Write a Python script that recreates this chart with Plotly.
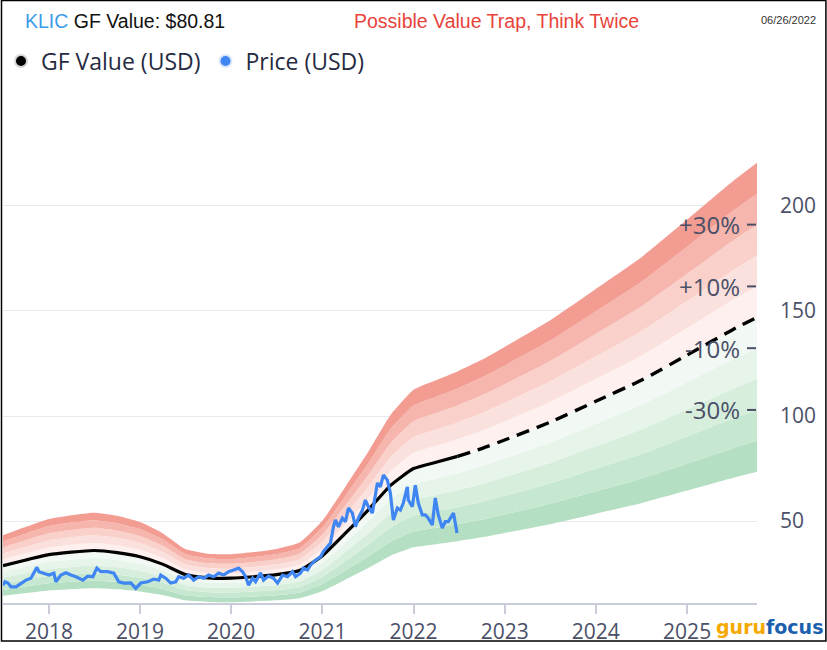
import plotly.graph_objects as go

# ---------------- data ----------------
gf_dates = ["2017-07-01", "2017-10-01", "2018-01-01", "2018-04-01", "2018-07-01", "2018-10-01",
            "2019-01-01", "2019-04-01", "2019-07-01", "2019-10-01", "2020-01-01", "2020-04-01",
            "2020-07-01", "2020-10-01", "2021-01-01", "2021-04-01", "2021-07-01", "2021-10-01",
            "2022-01-01", "2022-04-01", "2022-06-26"]
gf_values = [28.8, 31.5, 34.0, 35.2, 36.0, 35.0,
             33.0, 29.5, 24.5, 23.0, 22.8, 23.5,
             24.5, 26.5, 33.5, 44.0, 55.0, 67.0,
             75.0, 78.0, 80.81]

proj_dates = ["2022-06-26", "2022-10-01", "2023-01-01", "2023-07-01", "2024-01-01",
              "2024-07-01", "2025-01-01", "2025-07-01", "2025-10-08"]
proj_values = [80.81, 84.5, 88.6, 97.0, 107.0, 117.0, 129.0, 141.0, 147.0]

price_dates = ["2017-07-01", "2017-07-09", "2017-07-21", "2017-08-02", "2017-08-22", "2017-09-11",
               "2017-10-01", "2017-10-21", "2017-11-02", "2017-11-14", "2017-11-22", "2017-12-12",
               "2018-01-01", "2018-01-21", "2018-01-29", "2018-02-18", "2018-03-10", "2018-03-30",
               "2018-04-19", "2018-05-17", "2018-06-06", "2018-06-26", "2018-07-12", "2018-07-28",
               "2018-08-25", "2018-09-18", "2018-10-08", "2018-10-28", "2018-11-25", "2018-12-15",
               "2019-01-04", "2019-02-01", "2019-02-25", "2019-03-17", "2019-03-25", "2019-04-14",
               "2019-05-04", "2019-05-24", "2019-06-05", "2019-06-25", "2019-07-15", "2019-08-04",
               "2019-08-24", "2019-09-13", "2019-10-03", "2019-10-23", "2019-11-12", "2019-12-02",
               "2019-12-22", "2020-01-11", "2020-01-31", "2020-02-16", "2020-02-28", "2020-03-11",
               "2020-03-27", "2020-04-08", "2020-04-28", "2020-05-10", "2020-05-30", "2020-06-19",
               "2020-07-05", "2020-07-25", "2020-08-14", "2020-09-03", "2020-09-15", "2020-10-05",
               "2020-10-17", "2020-11-02", "2020-11-14", "2020-12-04", "2020-12-24", "2021-01-05",
               "2021-01-21", "2021-02-02", "2021-02-14", "2021-02-22", "2021-03-06", "2021-03-22",
               "2021-04-03", "2021-04-15", "2021-05-01", "2021-05-13", "2021-05-25", "2021-06-10",
               "2021-06-22", "2021-07-04", "2021-07-20", "2021-08-01", "2021-08-09", "2021-08-21",
               "2021-09-02", "2021-09-18", "2021-09-30", "2021-10-12", "2021-10-28", "2021-11-09",
               "2021-11-21", "2021-12-07", "2021-12-11", "2021-12-27", "2022-01-08", "2022-01-20",
               "2022-02-05", "2022-02-17", "2022-03-01", "2022-03-17", "2022-03-29", "2022-04-10",
               "2022-04-26", "2022-05-08", "2022-05-20", "2022-06-10", "2022-06-24"]
price_values = [19.5, 21.1, 20.5, 18.7, 18.7, 20.5,
                21.9, 22.8, 25.2, 28.0, 25.9, 25.2,
                24.3, 25.2, 21.1, 24.3, 25.4, 24.3,
                23.5, 21.9, 23.8, 23.5, 27.6, 25.9,
                25.9, 25.2, 21.1, 20.5, 20.6, 18.0,
                20.5, 21.1, 22.4, 21.9, 24.3, 22.8,
                20.5, 21.1, 23.5, 22.8, 24.3, 21.9,
                23.5, 22.8, 24.3, 23.5, 25.2, 24.3,
                25.9, 26.7, 27.6, 25.9, 23.5, 19.5,
                22.8, 21.1, 25.4, 21.9, 23.8, 22.8,
                20.5, 24.3, 23.5, 25.9, 23.5, 25.2,
                27.6, 26.7, 29.0, 31.4, 33.0, 35.5,
                37.8, 39.5, 47.3, 50.5, 47.3, 51.4,
                49.7, 56.2, 53.8, 47.3, 51.4, 55.2,
                60.0, 56.8, 53.8, 63.3, 68.1, 66.3,
                71.9, 69.5, 63.3, 50.5, 56.2, 55.2,
                58.6, 66.3, 60.0, 56.8, 67.1, 58.6,
                52.9, 52.9, 51.4, 48.1, 61.0, 52.9,
                46.7, 49.7, 49.7, 53.8, 44.3]

band_ratios = [0.5, 0.6, 0.7, 0.8, 0.9, 1.0, 1.1, 1.2, 1.3, 1.4, 1.5]
band_colors = ["#b5dfc3", "#c6e7d0", "#d7eedd", "#e6f4ea", "#f2f9f4",
               "#fdf0ee", "#fbe1dd", "#f9d0ca", "#f6b5ad", "#f29c92"]

pct_labels = ["+30%", "+10%", "-10%", "-30%"]
pct_ratios = [1.3, 1.1, 0.9, 0.7]

year_ticks = ["2018-01-01", "2019-01-01", "2020-01-01", "2021-01-01",
              "2022-01-01", "2023-01-01", "2024-01-01", "2025-01-01"]
year_labels = ["2018", "2019", "2020", "2021", "2022", "2023", "2024", "2025"]
y_ticks = [50, 100, 150, 200, 250]
y_labels = ["50", "100", "150", "200", ""]

x_range = ["2017-07-01", "2025-10-08"]
y_range = [11, 249]

# ---------------- layout helpers ----------------
W, H = 827, 650
ML, MR, MT, MB = 2, 70, 103, 47
PW, PH = W - ML - MR, H - MT - MB


def px_x(px):
    return (px - ML) / PW


def px_y(py):
    return (H - MB - py) / PH


# ---------------- figure ----------------
fig = go.Figure()

all_dates = gf_dates + proj_dates[1:]
all_values = gf_values + proj_values[1:]

for i, r in enumerate(band_ratios):
    fig.add_trace(go.Scatter(
        x=all_dates, y=[v * r for v in all_values], mode="lines",
        line=dict(width=0, shape="spline", smoothing=0.5),
        fill="tonexty" if i > 0 else None,
        fillcolor=band_colors[i - 1] if i > 0 else None,
        showlegend=False, hoverinfo="skip"))

fig.add_trace(go.Scatter(
    x=gf_dates, y=gf_values, mode="lines",
    line=dict(color="black", width=3.2, shape="spline", smoothing=0.5),
    showlegend=False, hoverinfo="skip"))
fig.add_trace(go.Scatter(
    x=proj_dates, y=proj_values, mode="lines",
    line=dict(color="black", width=3.4, dash="13px,8px", shape="spline", smoothing=0.5),
    showlegend=False, hoverinfo="skip"))
fig.add_trace(go.Scatter(
    x=price_dates, y=price_values, mode="lines",
    line=dict(color="#3f86f2", width=3.2),
    showlegend=False, hoverinfo="skip"))

# legend entries
fig.add_trace(go.Scatter(x=[None], y=[None], mode="markers", name="GF Value (USD)",
                         marker=dict(size=13, color="black", line=dict(color="#d6d6d6", width=4))))
fig.add_trace(go.Scatter(x=[None], y=[None], mode="markers", name="Price (USD)",
                         marker=dict(size=13, color="#3f86f2", line=dict(color="#dce8fb", width=4))))

annotations = []
shapes = []
last_gf = proj_values[-1]
for lab, r in zip(pct_labels, pct_ratios):
    annotations.append(dict(
        x=px_x(742), xref="paper", y=last_gf * r, yref="y", text=lab,
        showarrow=False, xanchor="right", yanchor="middle",
        font=dict(family="Open Sans", size=24, color="#4b5068")))
    shapes.append(dict(type="line", xref="paper", yref="y",
                       x0=px_x(747), x1=px_x(756), y0=last_gf * r, y1=last_gf * r,
                       line=dict(color="#4b5068", width=2)))

annotations.append(dict(
    x=px_x(22), y=px_y(21), xref="paper", yref="paper", xanchor="left", yanchor="middle",
    showarrow=False,
    text="<span style='color:#3d9be9'>KLIC</span> GF Value: $80.81",
    font=dict(family="Liberation Sans, Arial", size=19.5, color="#111111")))
annotations.append(dict(
    x=px_x(496), y=px_y(21), xref="paper", yref="paper", xanchor="center", yanchor="middle",
    showarrow=False, text="Possible Value Trap, Think Twice",
    font=dict(family="Liberation Sans, Arial", size=19.5, color="#e8433b")))
annotations.append(dict(
    x=px_x(818), y=px_y(20), xref="paper", yref="paper", xanchor="right", yanchor="middle",
    showarrow=False, text="06/26/2022",
    font=dict(family="Liberation Sans, Arial", size=11, color="#333333")))
annotations.append(dict(
    x=px_x(825), y=px_y(627), xref="paper", yref="paper", xanchor="right", yanchor="middle",
    showarrow=False, bgcolor="white",
    text="<span style='color:#f5a800'><b>guru</b></span><span style='color:#1b5fae'><b>focus</b></span>",
    font=dict(family="DejaVu Sans", size=19)))

# frame
shapes.append(dict(type="rect", xref="paper", yref="paper",
                   x0=px_x(0.5), x1=px_x(826), y0=px_y(641), y1=px_y(0.5),
                   line=dict(color="black", width=1.5), fillcolor="rgba(0,0,0,0)", layer="above"))

fig.update_layout(
    width=W, height=H,
    margin=dict(l=ML, r=MR, t=MT, b=MB),
    paper_bgcolor="white", plot_bgcolor="white",
    hovermode=False,
    font=dict(family="Open Sans", color="#4b5068"),
    showlegend=True,
    legend=dict(orientation="h", x=px_x(1), y=px_y(61), xanchor="left", yanchor="middle",
                traceorder="normal",
                font=dict(family="Open Sans", size=23, color="#262b42"),
                bgcolor="rgba(0,0,0,0)", itemsizing="constant"),
    annotations=annotations,
    shapes=shapes,
    xaxis=dict(type="date", range=x_range, tickvals=year_ticks, ticktext=year_labels,
               showgrid=False, zeroline=False, showline=True, linecolor="#c8cdd9", linewidth=2,
               ticks="outside", ticklen=9, tickwidth=2, tickcolor="#c8cdd9",
               tickfont=dict(family="Open Sans", size=21, color="#4b5068")),
    yaxis=dict(range=y_range, side="right", tickvals=y_ticks, ticktext=y_labels,
               showgrid=True, gridcolor="#e7eaf0", gridwidth=1, zeroline=False,
               showline=False, ticks="", ticklabelstandoff=22,
               tickfont=dict(family="Open Sans", size=21, color="#4b5068")),
)

fig.write_html("out.html")
